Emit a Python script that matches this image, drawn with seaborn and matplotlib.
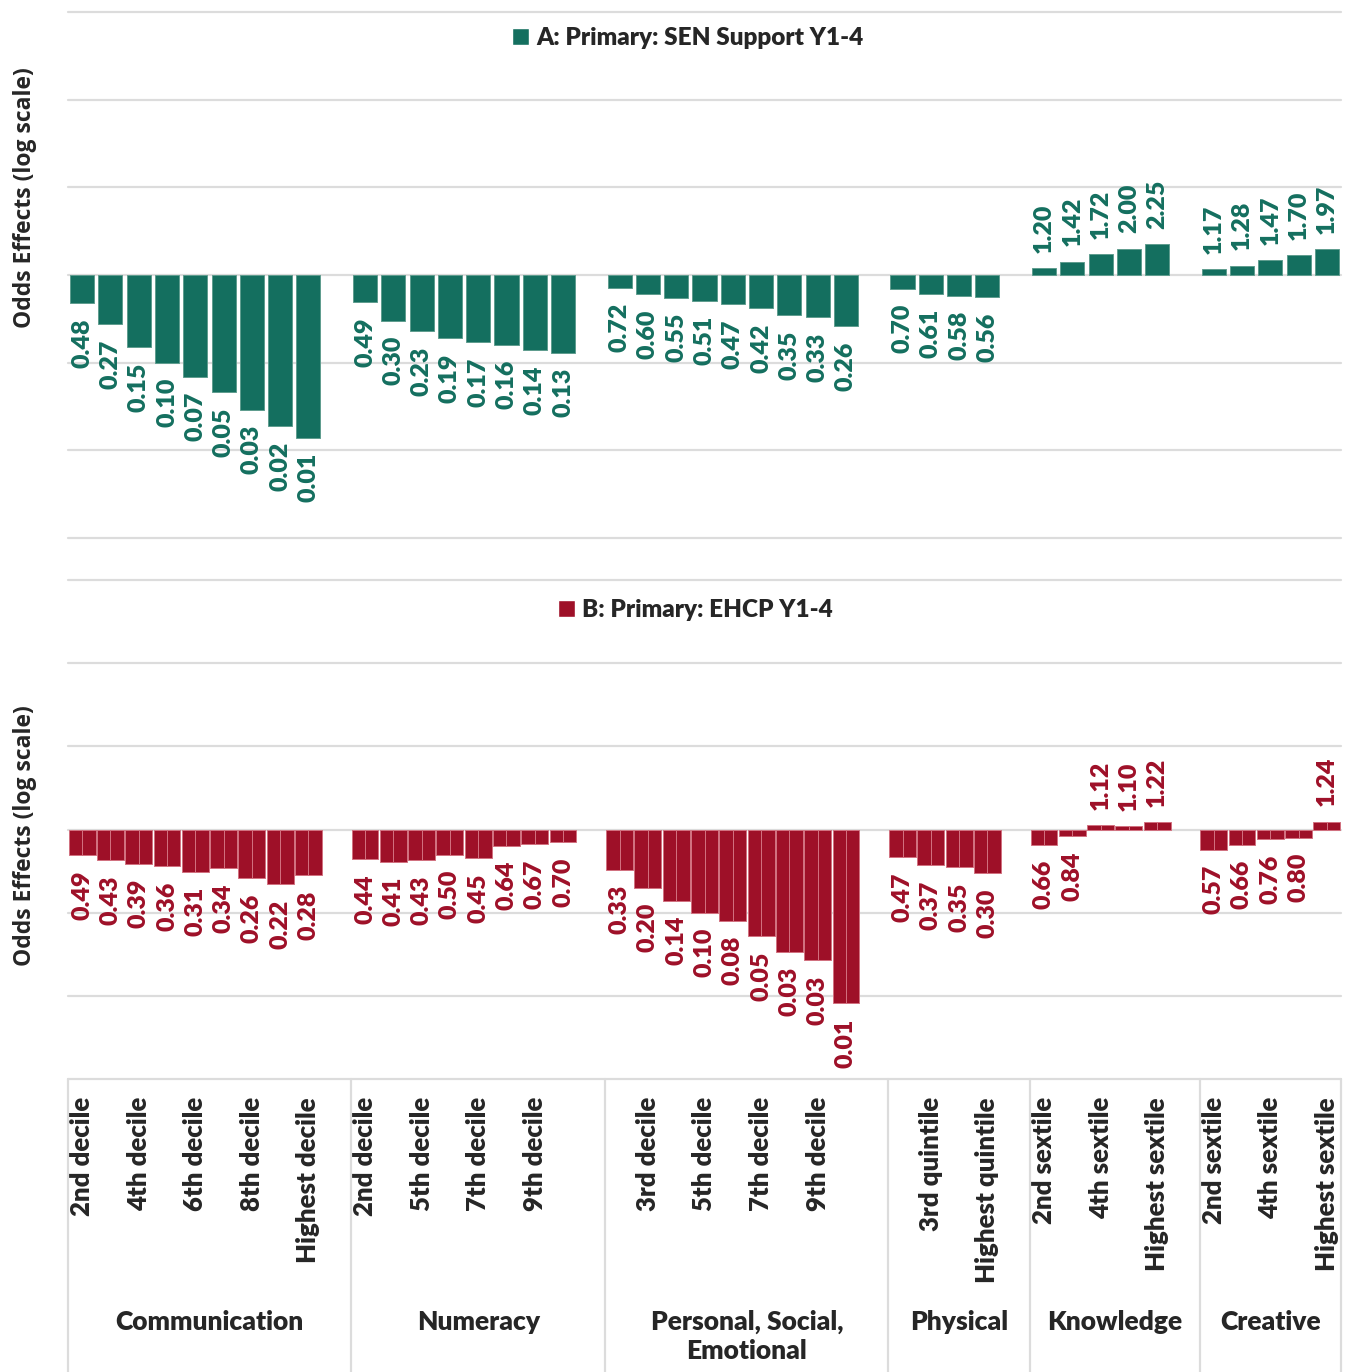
import numpy as np
import pandas as pd
import matplotlib
matplotlib.use('Agg')
import matplotlib.pyplot as plt
import matplotlib.transforms as mtransforms
from matplotlib.patches import Patch
import seaborn as sns

sns.set_style('white')
plt.rcParams['font.family'] = ['Lato', 'DejaVu Sans']

# ---- data ----
groups = ['Communication', 'Numeracy', 'Personal, Social,\nEmotional',
          'Physical', 'Knowledge', 'Creative']

deciles = ['2nd decile', '3rd decile', '4th decile', '5th decile', '6th decile',
           '7th decile', '8th decile', '9th decile', 'Highest decile']
comm_labels = deciles
num_labels = ['2nd decile', '3rd/4th decile', '5th decile', '6th decile',
              '7th decile', '8th decile', '9th decile', 'Highest decile']
pse_labels = deciles
phys_labels = ['2nd quintile', '3rd quintile', '4th quintile', 'Highest quintile']
know_labels = ['2nd sextile', '3rd sextile', '4th sextile', '5th sextile', 'Highest sextile']
creat_labels = know_labels

# A: Primary: SEN Support Y1-4
comm_a = [0.48, 0.274, 0.15, 0.10, 0.069, 0.046, 0.029, 0.019, 0.014]
num_a = [0.49, 0.30, 0.23, 0.19, 0.17, 0.16, 0.14, 0.13]
pse_a = [0.72, 0.60, 0.55, 0.51, 0.47, 0.42, 0.35, 0.33, 0.26]
phys_a = [0.70, 0.61, 0.58, 0.56]
know_a = [1.20, 1.42, 1.72, 2.00, 2.25]
creat_a = [1.17, 1.28, 1.47, 1.70, 1.97]

# B: Primary: EHCP Y1-4
comm_b = [0.49, 0.43, 0.39, 0.36, 0.31, 0.34, 0.26, 0.22, 0.28]
num_b = [0.44, 0.41, 0.43, 0.50, 0.45, 0.64, 0.67, 0.70]
pse_b = [0.33, 0.20, 0.14, 0.10, 0.08, 0.052, 0.034, 0.027, 0.0082]
phys_b = [0.47, 0.37, 0.35, 0.30]
know_b = [0.66, 0.84, 1.12, 1.10, 1.22]
creat_b = [0.57, 0.66, 0.76, 0.80, 1.24]

green = '#146f5f'
red = '#9e1028'
grid_col = '#dcdcdc'
wt = 'heavy'

# ---- table (one empty slot between groups, as in the Excel chart) ----
sub_lists = [comm_labels, num_labels, pse_labels, phys_labels, know_labels, creat_labels]
a_lists = [comm_a, num_a, pse_a, phys_a, know_a, creat_a]
b_lists = [comm_b, num_b, pse_b, phys_b, know_b, creat_b]

rows = []
pos = 0
for g, subs, va, vb in zip(groups, sub_lists, a_lists, b_lists):
    for s, a, b in zip(subs, va, vb):
        rows.append(dict(pos=pos, group=g, sub=s, a=a, b=b))
        pos += 1
    pos += 1
df = pd.DataFrame(rows)
df['log_a'] = np.log10(df['a'])
df['log_b'] = np.log10(df['b'])
n_slots = df['pos'].max() + 1

# B bars are drawn as two touching halves
df_b = pd.concat([df.assign(half='l'), df.assign(half='r')], ignore_index=True)

W, H = 1346, 1372
fig = plt.figure(figsize=(W / 100, H / 100), dpi=100)
ax1 = fig.add_axes([68 / W, 1 - 538 / H, 1273 / W, 526 / H])
ax2 = fig.add_axes([68 / W, 1 - 1079 / H, 1273 / W, 499 / H])

sns.barplot(data=df, x='pos', y='log_a', native_scale=True, orient='x', width=0.85,
            color=green, edgecolor='#5f9d8f', linewidth=0.7, saturation=1, ax=ax1)
sns.barplot(data=df_b, x='pos', y='log_b', hue='half', native_scale=True, orient='x',
            width=0.95, dodge=True, palette=[red, red], edgecolor='#d27180',
            linewidth=0.7, saturation=1, legend=False, ax=ax2)

for ax, col, color in [(ax1, 'log_a', green), (ax2, 'log_b', red)]:
    ax.set_xlim(-0.5, n_slots - 0.5)
    ax.set_ylim(-3, 3)
    ax.set_yticks(range(-3, 4))
    ax.set_yticklabels([])
    ax.set_xlabel('')
    ax.set_ylabel('')
    ax.yaxis.grid(True, color=grid_col, linewidth=1.6)
    for ln in ax.get_ygridlines():
        ln.set_clip_on(False)
    ax.set_axisbelow(True)
    ax.tick_params(length=0)
    sns.despine(ax=ax, left=True, bottom=True)
    for _, r in df.iterrows():
        v = r[col]
        up = v >= 0
        ax.annotate('{:.2f}'.format(10 ** v), xy=(r['pos'], v),
                    xytext=(0, 11 if up else -11), textcoords='offset points',
                    rotation=90, ha='center', va='bottom' if up else 'top',
                    fontsize=18, fontweight=wt, color=color)

ax1.set_xticks([])

# category axis on panel B: every second slot labelled
tick_df = df[df['pos'] % 2 == 0]
ax2.set_xticks(tick_df['pos'])
ax2.set_xticklabels(tick_df['sub'], rotation=90, fontsize=18.5, fontweight=wt)
ax2.tick_params(axis='x', pad=13)

trans = mtransforms.blended_transform_factory(ax2.transData, ax2.transAxes)
bounds = []
for g in groups:
    p = df.loc[df['group'] == g, 'pos']
    bounds.append(p.min() - 0.5)
bounds.append(df['pos'].max() + 0.5)
for b in bounds:
    ax2.plot([b, b], [0, -0.6], transform=trans, color=grid_col, lw=1.6, clip_on=False)
for i, g in enumerate(groups):
    ax2.text((bounds[i] + bounds[i + 1]) / 2, -0.462, g,
             transform=trans, ha='center', va='top', fontsize=19, fontweight=wt,
             linespacing=1.25)

# legends
ax1.legend(handles=[Patch(facecolor=green, label='A: Primary: SEN Support Y1-4')],
           loc='center', bbox_to_anchor=(0.487, 0.951), frameon=False,
           handlelength=0.7, handleheight=0.7, handletextpad=0.3,
           prop=dict(weight=wt, size=17.5))
ax2.legend(handles=[Patch(facecolor=red, label='B: Primary: EHCP Y1-4')],
           loc='center', bbox_to_anchor=(0.493, 0.94), frameon=False,
           handlelength=0.7, handleheight=0.7, handletextpad=0.3,
           prop=dict(weight=wt, size=17.5))

for yc in [198, 836]:
    fig.text(25 / W, 1 - yc / H, 'Odds Effects (log scale)', rotation=90,
             ha='center', va='center', fontsize=16.5, fontweight='bold',
             family=['Open Sans', 'DejaVu Sans'])

fig.savefig('out.png', dpi=100)
